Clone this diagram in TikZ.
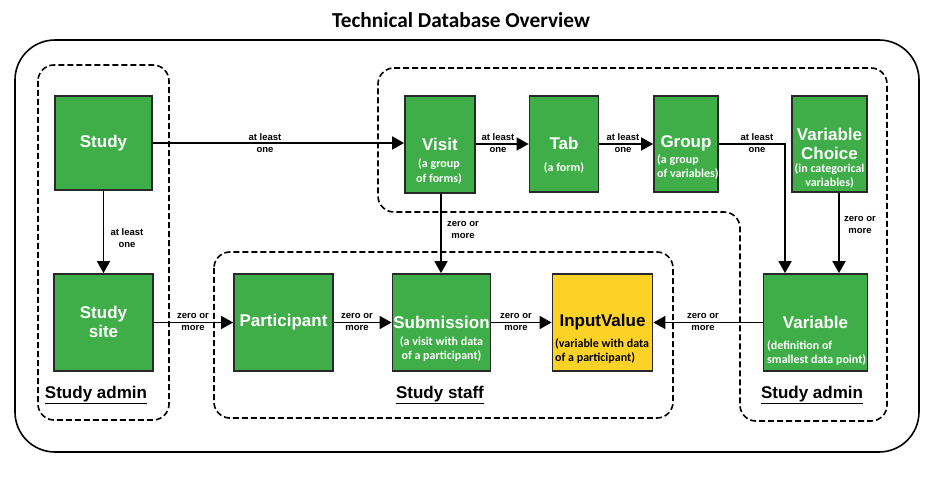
\documentclass[tikz,border=0pt]{standalone}
\usepackage{fontspec}
\setmainfont{Liberation Sans}
\newfontfamily\carl{Carlito}
\usetikzlibrary{arrows.meta}
\definecolor{boxgreen}{RGB}{64,174,72}
\definecolor{boxyellow}{RGB}{253,210,38}
\definecolor{boxedge}{RGB}{40,40,40}
\tikzset{
  box/.style={draw=boxedge, line width=1.8pt, fill=boxgreen, inner sep=0pt},
  ybox/.style={box, fill=boxyellow},
  maintxt/.style={text=white, font=\bfseries\fontsize{17}{19}\selectfont, align=center, inner sep=0pt},
  subtxt/.style={text=white, font=\carl\bfseries\fontsize{12}{14.5}\selectfont, inner sep=0pt},
  elab/.style={font=\bfseries\fontsize{9.5}{11.5}\selectfont, align=center, inner sep=0pt},
  conn/.style={line width=1.8pt, -{Triangle[length=12pt,width=13pt]}},
  grp/.style={draw, line width=1.6pt, dash pattern=on 6pt off 3pt, rounded corners=16pt},
  grplab/.style={font=\bfseries\fontsize{17}{19}\selectfont, inner sep=0pt}
}
\begin{document}
\begin{tikzpicture}[x=1pt,y=-1pt]
\useasboundingbox (0,0) rectangle (945,478);
% title
\node[font=\carl\bfseries\fontsize{21.3}{24}\selectfont] (title) at (461,20) {Technical Database Overview};
% outer frame
\draw[line width=1.6pt, rounded corners=40pt] (15,40) rectangle (919,452);
% dashed groups
\draw[grp] (38,65) rectangle (169,420);
\draw[grp] (214,252) rectangle (673,418);
\draw[grp] (378,68) -- (887,68) -- (887,421) -- (740,421) -- (740,212) -- (378,212) -- cycle;
\node[grplab] (lab1) at (96,395) {\underline{Study admin}};
\node[grplab] (lab2) at (440,395) {\underline{Study staff}};
\node[grplab] (lab3) at (812,395) {\underline{Study admin}};
% boxes
\node[box, minimum width=97pt, minimum height=94pt] (study) at (103.5,143) {};
\node[box, minimum width=99pt, minimum height=97pt] (site) at (103.5,322.5) {};
\node[box, minimum width=99pt, minimum height=97pt] (part) at (283.5,322.5) {};
\node[box, minimum width=98pt, minimum height=97pt] (sub) at (441.5,322.5) {};
\node[ybox, minimum width=100pt, minimum height=97pt] (input) at (602.5,322.5) {};
\node[box, minimum width=104pt, minimum height=97pt] (var) at (815.5,322.5) {};
\node[box, minimum width=70pt, minimum height=97pt] (visit) at (440,144.5) {};
\node[box, minimum width=69pt, minimum height=96pt] (tab) at (564,144) {};
\node[box, minimum width=64pt, minimum height=96pt] (group) at (686,144) {};
\node[box, minimum width=75pt, minimum height=96pt] (vchoice) at (829.5,144) {};
% box texts
\node[maintxt] (tstudy) at (study.center) {Study};
\node[maintxt, text depth=0pt] (tsite) at (103.5,322) {Study\\site};
\node[maintxt] (tpart) at (283.5,322) {Participant};
\node[maintxt] (tsub) at (441.5,322) {Submission};
\node[subtxt, align=center] (ssub) at (441.5,349) {(a visit with data\\of a participant)};
\node[maintxt, text=black] (tinput) at (602.5,322) {InputValue};
\node[subtxt, text=black, align=left, anchor=west] (sinput) at (555,351) {(variable with data\\of a participant)};
\node[maintxt] (tvar) at (815.5,322) {Variable};
\node[subtxt, align=left, anchor=west] (svar) at (767,353) {(definition of\\smallest data point)};
\node[maintxt] (tvisit) at (440,144) {Visit};
\node[subtxt, align=center] (svisit) at (439,171.5) {(a group\\ of forms)};
\node[maintxt] (ttab) at (564,143) {Tab};
\node[subtxt] (stab) at (564,168) {(a form)};
\node[maintxt] (tgroup) at (686,143) {Group};
\node[subtxt, align=left, anchor=west] (sgroup) at (657,167) {(a group\\of variables)};
\node[maintxt] (tvchoice) at (829.5,144) {Variable\\Choice};
\node[subtxt, align=center] (svchoice) at (829.5,176) {(in categorical\\variables)};
% connectors
\draw[conn] (study) -- (study -| visit.west);
\draw[conn] (visit.east |- tab) -- (tab);
\draw[conn] (tab) -- (group);
\coordinate (gcorner) at (785,144);
\draw[conn] (group.east) -- (gcorner) -- (gcorner |- var.north);
\draw[conn] (vchoice.south -| 839,0) -- (var.north -| 839,0);
\draw[conn] (visit.south -| 441,0) -- (sub.north -| 441,0);
\draw[conn] (study) -- (site);
\draw[conn] (site) -- (part);
\draw[conn] (part) -- (sub);
\draw[conn] (sub) -- (input);
\draw[conn] (var) -- (input);
% connector labels
\node[elab] (l1) at (265,143) {at least\\one};
\node[elab] (l2) at (498,143) {at least\\one};
\node[elab] (l3) at (623,143) {at least\\one};
\node[elab] (l4) at (757,143) {at least\\one};
\node[elab] (l5) at (127,238) {at least\\one};
\node[elab] (l6) at (463,230) {zero or\\more};
\node[elab] (l7) at (860,225) {zero or\\more};
\node[elab] (l8) at (193,322) {zero or\\more};
\node[elab] (l9) at (357,322) {zero or\\more};
\node[elab] (l10) at (516,322) {zero or\\more};
\node[elab] (l11) at (703,322) {zero or\\more};
\end{tikzpicture}
\end{document}
